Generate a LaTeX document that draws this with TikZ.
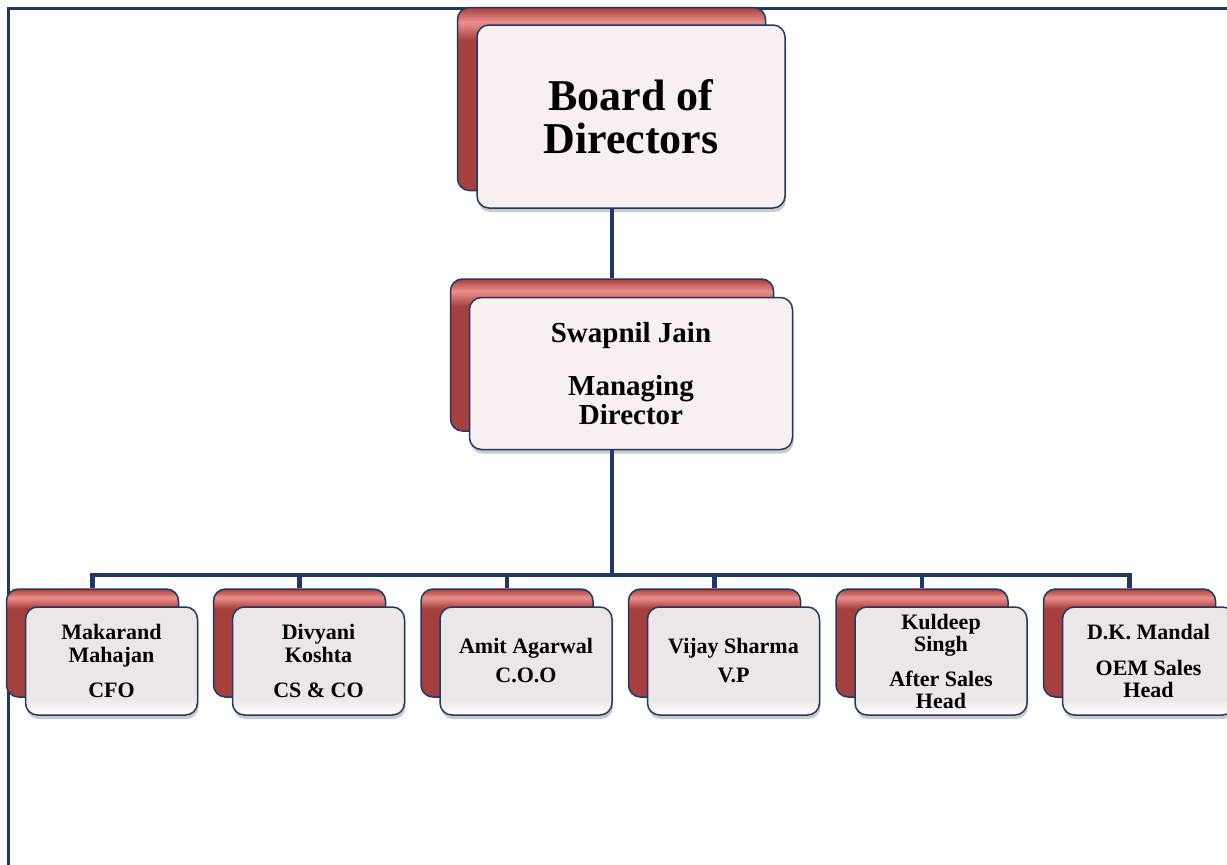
\documentclass[tikz,border=0pt]{standalone}
\usepackage{fontspec}
\setmainfont{Liberation Serif}
\usetikzlibrary{positioning, shadows}

\definecolor{navy}{HTML}{1F3864}
\definecolor{redmain}{HTML}{A5403D}
\definecolor{redhi}{HTML}{EC908C}
\definecolor{paper}{HTML}{F8F0F0}
\definecolor{papergrey}{HTML}{ECE6E6}

% red card behind, with a light band along its top edge
\pgfdeclareverticalshading{redglow}{100bp}{color(0bp)=(redmain); color(25bp)=(redmain); color(66bp)=(redmain); color(71bp)=(redhi); color(75bp)=(redmain); color(100bp)=(redmain)}
% grey card in front, lighter at its foot
\pgfdeclareverticalshading{greyglow}{100bp}{color(0bp)=(white); color(25bp)=(white); color(33bp)=(papergrey); color(75bp)=(papergrey); color(100bp)=(papergrey)}

\tikzset{
frame/.style={draw=navy, line width=3pt}, % the border round the chart
conn/.style={draw=navy, line width=4.5pt}, % the lines of the tree
back/.style={draw=navy, line width=1.5pt, rounded corners=12pt, shading=redglow, inner sep=0pt},
front/.style={draw=navy, line width=1.5pt, rounded corners=12pt, fill=paper, align=center, inner sep=0pt,
  drop shadow={shadow xshift=1pt, shadow yshift=-4pt, opacity=.35, fill=black!60}},
topcard/.style={minimum width=308pt, minimum height=183pt},
midcard/.style={minimum width=323pt, minimum height=152pt},
lowcard/.style={minimum width=172pt, minimum height=108pt},
}

\begin{document}
\begin{tikzpicture}[x=1pt, y=-1pt]
\useasboundingbox (0,0) rectangle (1227,865);
\draw[frame] (8,865) -- (8,8) -- (1227,8);

% board
\node[back, topcard] (bodb) at (611.5,99) {};
\node[front, topcard, font=\fontsize{44}{43}\selectfont\bfseries] (bod) at ([shift={(19.5,17.5)}]bodb.center) {Board of\\Directors};

% managing director
\node[back, midcard] (mdb) at (612,355) {};
\node[front, midcard, font=\fontsize{29}{29}\selectfont\bfseries] (md) at ([shift={(19,18.5)}]mdb.center) {Swapnil Jain\\[24pt]Managing\\Director};

% heads
\node[back, lowcard] (cfob) at (92.5,643) {};
\node[front, lowcard, shading=greyglow, font=\fontsize{22}{23}\selectfont\bfseries] (cfo) at ([shift={(19,18)}]cfob.center) {Makarand\\Mahajan\\[12pt]CFO};
\node[back, lowcard] (csb) at (299.5,643) {};
\node[front, lowcard, shading=greyglow, font=\fontsize{22}{23}\selectfont\bfseries] (cs) at ([shift={(19,18)}]csb.center) {Divyani\\Koshta\\[12pt]CS \& CO};
\node[back, lowcard] (coob) at (507,643) {};
\node[front, lowcard, shading=greyglow, font=\fontsize{22}{23}\selectfont\bfseries] (coo) at ([shift={(19,18)}]coob.center) {Amit Agarwal\\[6pt]C.O.O};
\node[back, lowcard] (vpb) at (714.5,643) {};
\node[front, lowcard, shading=greyglow, font=\fontsize{22}{23}\selectfont\bfseries] (vp) at ([shift={(19,18)}]vpb.center) {Vijay Sharma\\[6pt]V.P};
\node[back, lowcard] (salesb) at (922,643) {};
\node[front, lowcard, shading=greyglow, font=\fontsize{22}{22}\selectfont\bfseries] (sales) at ([shift={(19,18)}]salesb.center) {Kuldeep\\Singh\\[13pt]After Sales\\Head};
\node[back, lowcard] (oemb) at (1129.5,643) {};
\node[front, lowcard, shading=greyglow, font=\fontsize{22}{22}\selectfont\bfseries] (oem) at ([shift={(19,18)}]oemb.center) {D.K. Mandal\\[14pt]OEM Sales\\Head};

% tree
\coordinate (bar) at (612,575);
\draw[conn] (mdb.north |- bod.south) -- (mdb.north);
\draw[conn] (mdb.north |- md.south) -- (bar);
\draw[conn, line cap=rect] (cfob.north |- bar) -- (oemb.north |- bar);
\foreach \n in {cfob,csb,coob,vpb,salesb,oemb}
  \draw[conn] (\n.north |- bar) -- (\n.north);
\end{tikzpicture}
\end{document}
